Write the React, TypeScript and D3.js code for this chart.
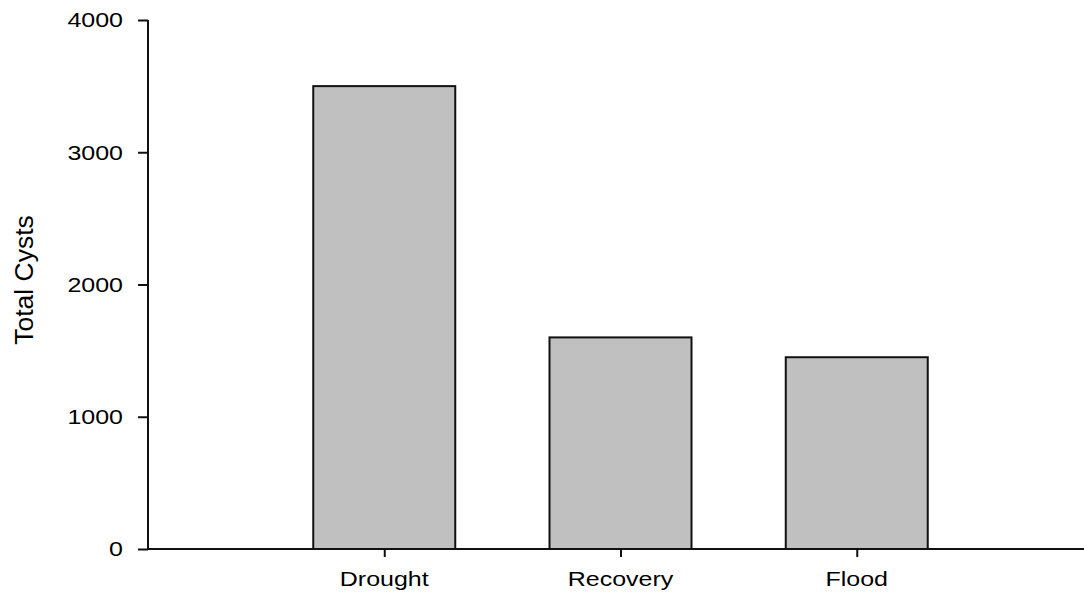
import React, { useEffect, useRef } from 'react';
import * as d3 from 'd3';

const categories = ['Drought', 'Recovery', 'Flood'];
const totals = [3500, 1600, 1450];
const yTicks = [0, 1000, 2000, 3000, 4000];

const W = 1084;
const H = 595;

export default function App() {
  const ref = useRef<SVGSVGElement>(null);

  useEffect(() => {
    const svg = d3.select(ref.current);
    svg.selectAll('*').remove();

    const left = 148, top = 20, bottom = 549;
    // bars sit at positions 1..3 on a 0..4 axis
    const x = d3.scaleLinear().domain([0, 4]).range([left, 1093]);
    const y = d3.scaleLinear().domain([0, 4000]).range([bottom, top]);
    const barW = 142;
    const font = 'Liberation Sans, Arial, sans-serif';
    const stretch = 1.25; // labels in the original are drawn wide

    svg.append('g')
      .selectAll('rect')
      .data(totals)
      .enter()
      .append('rect')
      .attr('x', (d, i) => x(i + 1) - barW / 2)
      .attr('y', d => y(d))
      .attr('width', barW)
      .attr('height', d => y(0) - y(d))
      .attr('fill', '#c0c0c0')
      .attr('stroke', '#111')
      .attr('stroke-width', 2);

    const yAxis = svg.append('g')
      .attr('transform', `translate(${left},0)`)
      .call(d3.axisLeft(y).tickValues(yTicks).tickSize(10).tickFormat(() => ''));
    yAxis.select('.domain').attr('stroke', '#111').attr('stroke-width', 2).attr('d', `M0,${bottom}V${top}`);
    yAxis.selectAll('.tick line').attr('stroke', '#111').attr('stroke-width', 2);

    svg.append('g')
      .selectAll('text')
      .data(yTicks)
      .enter()
      .append('text')
      .attr('transform', d => `translate(123,${y(d) + 7.3}) scale(${stretch},1)`)
      .attr('text-anchor', 'end')
      .attr('font-family', font)
      .attr('font-size', 20)
      .text(d => d3.format('d')(d));

    const xAxis = svg.append('g')
      .attr('transform', `translate(0,${bottom})`)
      .call(d3.axisBottom(x).tickValues([1, 2, 3]).tickSize(8).tickFormat(() => ''));
    xAxis.select('.domain').attr('stroke', '#111').attr('stroke-width', 2).attr('d', `M${left},0H1093`);
    xAxis.selectAll('.tick line').attr('stroke', '#111').attr('stroke-width', 2);

    svg.append('g')
      .selectAll('text')
      .data(categories)
      .enter()
      .append('text')
      .attr('transform', (d, i) => `translate(${x(i + 1)},586) scale(${stretch},1)`)
      .attr('text-anchor', 'middle')
      .attr('font-family', font)
      .attr('font-size', 20)
      .text(d => d);

    svg.append('text')
      .attr('transform', `translate(33,280) rotate(-90)`)
      .attr('text-anchor', 'middle')
      .attr('font-family', font)
      .attr('font-size', 26.5)
      .text('Total Cysts');
  }, []);

  return (
    <svg ref={ref} width={W} height={H}
      style={{ position: 'absolute', left: 0, top: 0, background: '#fff' }} />
  );
}
